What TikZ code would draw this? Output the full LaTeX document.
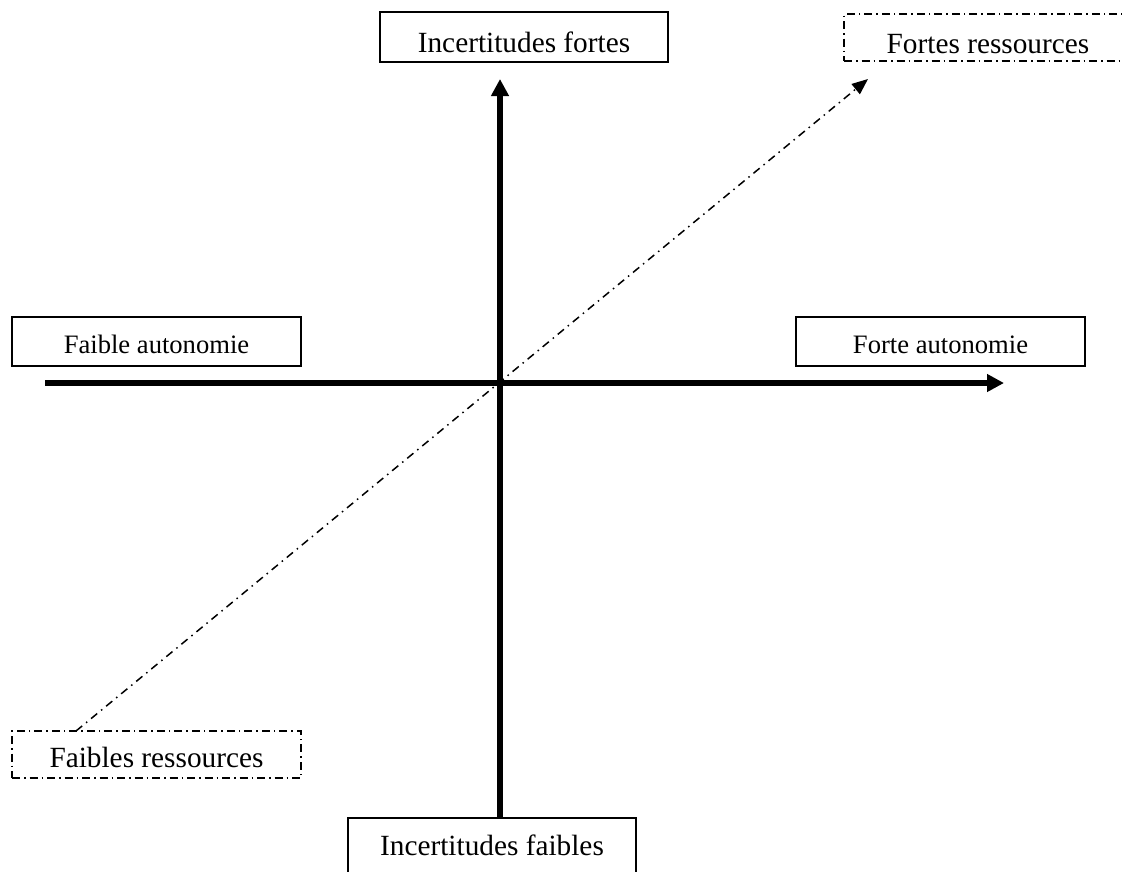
\documentclass[tikz,border=0pt]{standalone}
\usepackage{fontspec}
\setmainfont{Liberation Serif}
\usetikzlibrary{arrows.meta}
\begin{document}
\begin{tikzpicture}[x=1pt,y=-1pt,
  box/.style={draw, line width=1.2pt, inner sep=0pt, text depth=0pt, minimum height=49pt, minimum width=289pt},
  dashbox/.style={box, dash pattern=on 8pt off 4pt on 1.5pt off 4pt},
  big/.style={font=\fontsize{29.3}{35}\selectfont},
  small/.style={font=\fontsize{26.6}{32}\selectfont},
  axis/.style={line width=6pt, -{Triangle[length=17pt,width=17pt]}},
  diag/.style={line width=1.5pt, dash pattern=on 8pt off 5pt on 1.5pt off 5pt, -{Triangle[length=16pt,width=13pt]}}]
\useasboundingbox (0,0) rectangle (1122,871);
\node[box,big,text height=30pt,minimum width=288pt,minimum height=50pt] (incf) at (524,37) {Incertitudes fortes};
\node[box,small,text height=23pt] (faut) at (156.5,341.5) {Faible autonomie};
\node[box,small,text height=23pt] (fortaut) at (940.5,341.5) {Forte autonomie};
\node[dashbox,big,text height=31pt,minimum height=47pt,minimum width=288pt] (fres) at (988,37.5) {Fortes ressources};
\node[dashbox,big,text height=25pt,minimum height=47pt] (fbres) at (156.5,754.5) {Faibles ressources};
\node[box,big,text height=12pt,minimum width=288pt,minimum height=62pt] (incfb) at (492,849) {Incertitudes faibles};
\coordinate (vtip) at (500,79);
\coordinate (hl) at (45,383);
\coordinate (htip) at (1004,383);
\coordinate (dtip) at (868,79);
\coordinate (dlow) at (76,731);
\draw[diag] (dlow) -- (dtip);
\draw[axis] (incfb.north -| vtip) -- (vtip);
\draw[axis] (hl) -- (htip);
\end{tikzpicture}
\end{document}
